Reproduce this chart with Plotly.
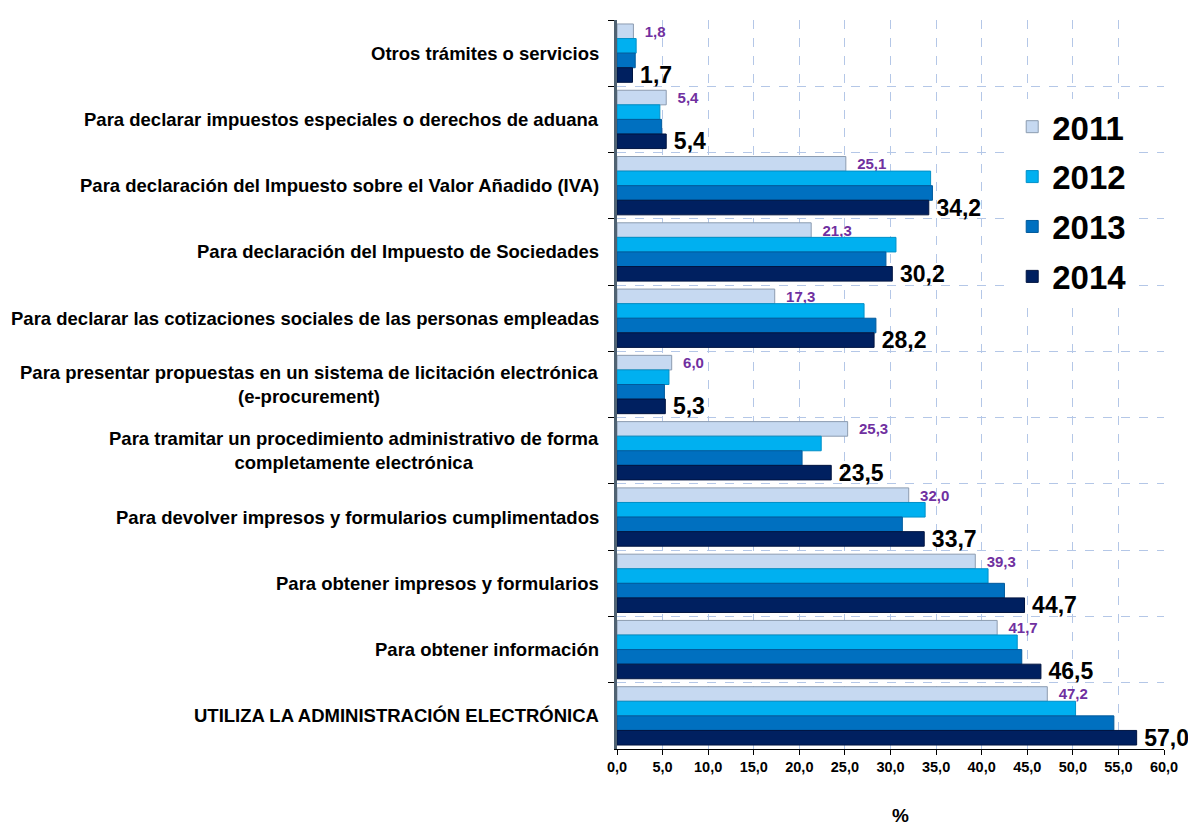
import plotly.graph_objects as go

# Categories, listed from top to bottom as in the chart
categories = [
    "Otros trámites o servicios",
    "Para declarar impuestos especiales o derechos de aduana",
    "Para declaración del Impuesto sobre el Valor Añadido (IVA)",
    "Para declaración del Impuesto de Sociedades",
    "Para declarar las cotizaciones sociales de las personas empleadas",
    "Para presentar propuestas en un sistema de licitación electrónica<br>(e-procurement)",
    "Para tramitar un procedimiento administrativo de forma<br>completamente electrónica",
    "Para devolver impresos y formularios cumplimentados",
    "Para obtener impresos y formularios",
    "Para obtener información",
    "UTILIZA LA ADMINISTRACIÓN ELECTRÓNICA",
]

years = ["2011", "2012", "2013", "2014"]

values_2011 = [1.8, 5.4, 25.1, 21.3, 17.3, 6.0, 25.3, 32.0, 39.3, 41.7, 47.2]
values_2012 = [2.1, 4.7, 34.4, 30.6, 27.1, 5.7, 22.4, 33.8, 40.7, 43.9, 50.3]
values_2013 = [2.0, 4.9, 34.6, 29.5, 28.4, 5.2, 20.3, 31.3, 42.5, 44.4, 54.5]
values_2014 = [1.7, 5.4, 34.2, 30.2, 28.2, 5.3, 23.5, 33.7, 44.7, 46.5, 57.0]

series = [values_2011, values_2012, values_2013, values_2014]
colors = ["#C6D9F1", "#00B0F0", "#0070C0", "#002060"]
outlines = ["#8C9CB0", "#0090C8", "#005A9C", "#001440"]

FONT = "Liberation Sans, Arial, sans-serif"


def fmt(v):
    return f"{v:.1f}".replace(".", ",")


fig = go.Figure()
for i, (year, vals) in enumerate(zip(years, series)):
    bar = dict(
        x=vals,
        y=categories,
        orientation="h",
        name=year,
        legendgroup=year,
        marker=dict(color=colors[i], line=dict(color=outlines[i], width=1)),
        cliponaxis=False,
        hoverinfo="x+name",
    )
    if year == "2011":
        bar.update(text=["  " + fmt(v) for v in vals], textposition="outside",
                   textfont=dict(family=FONT, size=15, color="#7030A0", weight="bold"),
                   constraintext="none")
    elif year == "2014":
        # thin space keeps a small gap after the bar end
        bar.update(text=["\u2009" + fmt(v) for v in vals], textposition="outside",
                   textfont=dict(family=FONT, size=23, color="black", weight="bold"),
                   constraintext="none")
    fig.add_trace(go.Bar(**bar))

# Category labels as annotations so wrapped lines stay centred
for cat in categories:
    fig.add_annotation(
        x=0, xref="paper", y=cat, yref="y",
        text=cat, showarrow=False,
        xanchor="right", xshift=-16, align="center",
        font=dict(family=FONT, size=18.5, color="black", weight="bold"),
    )

# axis title "%", sitting a little right of the plot centre
fig.add_annotation(
    x=0.519, xref="paper", y=0, yref="paper",
    text="%", showarrow=False, yanchor="middle", yshift=-66,
    font=dict(family=FONT, size=19, color="black", weight="bold"),
)

# page body adds an 8px offset, so the figure is drawn 16px smaller
fig.update_layout(
    width=1188,
    height=822,
    margin=dict(l=609, r=32, t=12, b=81),
    plot_bgcolor="white",
    paper_bgcolor="white",
    barmode="group",
    bargap=0.12,
    bargroupgap=0.0,
    separators=",.",
    font=dict(family=FONT, color="black"),
    legend=dict(
        x=0.7225, y=0.892, xanchor="left", yanchor="top",
        traceorder="grouped",
        tracegroupgap=4,
        bgcolor="white",
        font=dict(family=FONT, size=33, color="black", weight="bold"),
    ),
    xaxis=dict(
        range=[0, 60],
        dtick=5,
        tickformat=".1f",
        ticks="outside",
        ticklen=5,
        tickcolor="black",
        showline=True,
        linecolor="black",
        linewidth=1,
        showgrid=True,
        gridcolor="#B4C7E7",
        griddash="dash",
        gridwidth=1,
        zeroline=False,
        automargin=False,
        tickfont=dict(family=FONT, size=14.5, color="black", weight="bold"),
    ),
    yaxis=dict(
        autorange="reversed",
        showticklabels=False,
        ticks="outside",
        tickson="boundaries",
        ticklen=6,
        tickcolor="black",
        showline=True,
        linecolor="#4F6272",
        linewidth=3,
        showgrid=True,
        gridcolor="#B4C7E7",
        griddash="dash",
        gridwidth=1,
        automargin=False,
    ),
)

fig.write_html("out.html")
